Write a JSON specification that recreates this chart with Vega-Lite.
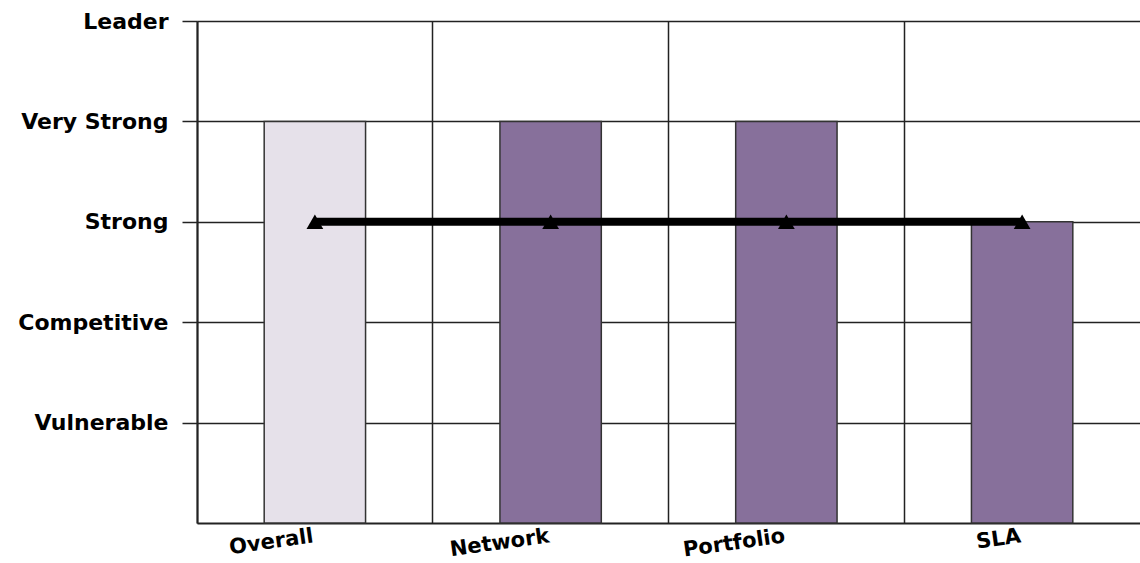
{
  "$schema": "https://vega.github.io/schema/vega-lite/v6.json",
  "width": 943,
  "height": 502,
  "autosize": {"type": "none"},
  "padding": {"left": 197, "top": 21, "right": 0, "bottom": 40},
  "background": "white",
  "config": {
    "view": {"stroke": null},
    "font": "DejaVu Sans"
  },
  "data": {
    "values": [
      {"category": "Overall", "rating": 4, "target": 3, "kind": "Overall"},
      {"category": "Network", "rating": 4, "target": 3, "kind": "Component"},
      {"category": "Portfolio", "rating": 4, "target": 3, "kind": "Component"},
      {"category": "SLA", "rating": 3, "target": 3, "kind": "Component"}
    ]
  },
  "encoding": {
    "x": {
      "field": "category",
      "type": "nominal",
      "sort": null,
      "scale": {"paddingInner": 0, "paddingOuter": 0},
      "axis": {
        "title": null,
        "bandPosition": 0,
        "grid": true,
        "gridColor": "#222222",
        "gridWidth": 1.5,
        "gridOpacity": 1,
        "ticks": false,
        "domain": true,
        "domainColor": "#222222",
        "domainWidth": 2,
        "labelOffset": -3,
        "labelAngle": -8,
        "labelAlign": "right",
        "labelBaseline": "top",
        "labelPadding": 2,
        "labelFont": "DejaVu Sans",
        "labelFontWeight": "bold",
        "labelFontSize": 21,
        "labelColor": "black"
      }
    }
  },
  "layer": [
    {
      "mark": {"type": "bar", "width": {"band": 0.43}, "stroke": "#333333", "strokeWidth": 1.5},
      "encoding": {
        "y": {
          "field": "rating",
          "type": "quantitative",
          "scale": {"domain": [0, 5], "nice": false},
          "axis": {
            "title": null,
            "values": [1, 2, 3, 4, 5],
            "labelExpr": "['', 'Vulnerable', 'Competitive', 'Strong', 'Very Strong', 'Leader'][datum.value]",
            "grid": true,
            "gridColor": "#222222",
            "gridWidth": 1.5,
            "gridOpacity": 1,
            "tickSize": 15,
            "tickColor": "#222222",
            "tickWidth": 1.5,
            "domainColor": "#222222",
            "domainWidth": 2,
            "labelPadding": 14,
            "labelFont": "DejaVu Sans",
            "labelFontWeight": "bold",
            "labelFontSize": 22,
            "labelColor": "black"
          }
        },
        "color": {
          "field": "kind",
          "type": "nominal",
          "scale": {"domain": ["Overall", "Component"], "range": ["#e6e1ea", "#87709b"]},
          "legend": null
        }
      }
    },
    {
      "mark": {"type": "line", "color": "black", "strokeWidth": 8, "point": {"shape": "triangle-up", "size": 280, "filled": true, "color": "black", "opacity": 1}},
      "encoding": {
        "y": {"field": "target", "type": "quantitative"}
      }
    }
  ]
}
